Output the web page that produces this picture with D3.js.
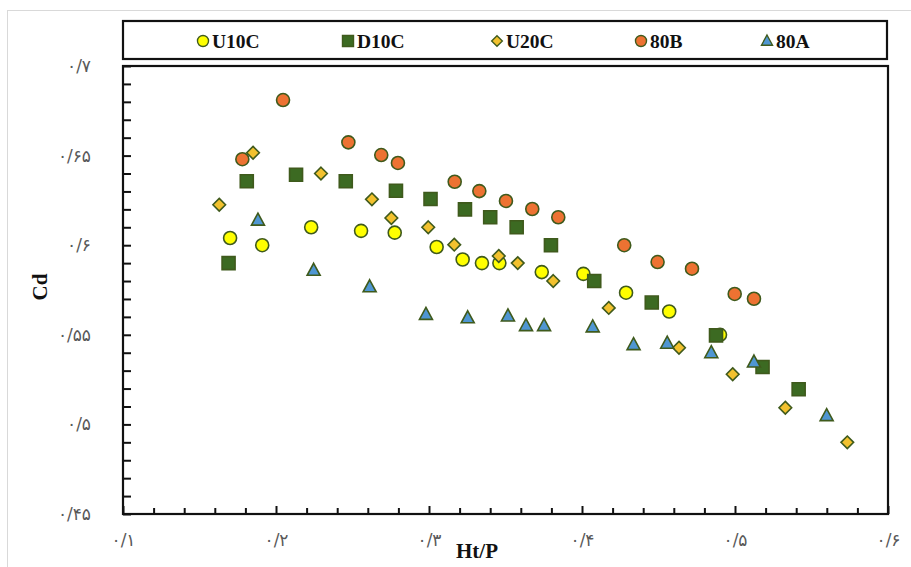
<!DOCTYPE html>
<html><head><meta charset="utf-8">
<script src="https://cdn.jsdelivr.net/npm/d3@7"></script>
<style>body{margin:0;background:#fff} svg{display:block}</style>
</head><body><svg id="c" width="911" height="567"></svg>
<script>
const seriesNames = ["U10C", "D10C", "U20C", "80B", "80A"];
const u10cX = [0.170, 0.191, 0.223, 0.2556, 0.2776, 0.305, 0.322, 0.3346, 0.346, 0.3737, 0.4009, 0.4288, 0.457, 0.4902];
const u10cY = [0.604, 0.600, 0.610, 0.608, 0.607, 0.599, 0.592, 0.590, 0.590, 0.585, 0.584, 0.5735, 0.563, 0.550];
const d10cX = [0.169, 0.1809, 0.2131, 0.2456, 0.2784, 0.301, 0.3235, 0.340, 0.3573, 0.3797, 0.408, 0.4456, 0.4876, 0.518, 0.5416];
const d10cY = [0.590, 0.6357, 0.6393, 0.6357, 0.6304, 0.6258, 0.620, 0.6156, 0.610, 0.600, 0.580, 0.568, 0.5497, 0.532, 0.5196];
const u20cX = [0.1629, 0.185, 0.2294, 0.2627, 0.2754, 0.2995, 0.3165, 0.3456, 0.358, 0.3812, 0.4175, 0.4634, 0.4985, 0.5329, 0.5734];
const u20cY = [0.6226, 0.6516, 0.640, 0.6256, 0.6152, 0.610, 0.6003, 0.594, 0.590, 0.580, 0.565, 0.5428, 0.528, 0.5093, 0.490];
const b80X = [0.178, 0.2046, 0.2473, 0.2688, 0.2797, 0.3168, 0.3329, 0.3503, 0.3675, 0.3845, 0.4276, 0.4494, 0.4719, 0.4998, 0.5124];
const b80Y = [0.648, 0.681, 0.6574, 0.6503, 0.6459, 0.6354, 0.6302, 0.6247, 0.6202, 0.6156, 0.600, 0.5906, 0.5869, 0.5728, 0.5701];
const a80X = [0.1882, 0.2246, 0.2612, 0.298, 0.3253, 0.3516, 0.3634, 0.3752, 0.407, 0.4337, 0.4557, 0.4845, 0.5124, 0.5599];
const a80Y = [0.614, 0.586, 0.5768, 0.5614, 0.5595, 0.5605, 0.5551, 0.5551, 0.5544, 0.5445, 0.5453, 0.540, 0.5348, 0.5049];
const xTickLabels = ["۰/۱", "۰/۲", "۰/۳", "۰/۴", "۰/۵", "۰/۶"];
const yTickLabels = ["۰/۴۵", "۰/۵", "۰/۵۵", "۰/۶", "۰/۶۵", "۰/۷"];

const series = [
  {name: seriesNames[0], xs: u10cX, ys: u10cY, shape: "circle", fill: "#ffff00"},
  {name: seriesNames[1], xs: d10cX, ys: d10cY, shape: "square", fill: "#3c6a22"},
  {name: seriesNames[2], xs: u20cX, ys: u20cY, shape: "diamond", fill: "#f2c12e"},
  {name: seriesNames[3], xs: b80X, ys: b80Y, shape: "circle", fill: "#ed7232"},
  {name: seriesNames[4], xs: a80X, ys: a80Y, shape: "triangle", fill: "#4f96d2"}
];
const strokeCol = "#3f5a1c";

function shapePath(shape) {
  if (shape === "circle") { const r = 6.5; return `M${-r},0A${r},${r} 0 1,0 ${r},0A${r},${r} 0 1,0 ${-r},0Z`; }
  if (shape === "square") { const h = 6.5; return `M${-h},${-h}H${h}V${h}H${-h}Z`; }
  if (shape === "diamond") { const h = 6.3; return `M0,${-h}L${h},0L0,${h}L${-h},0Z`; }
  if (shape === "triangle") { return `M0,-7L6.5,5L-6.5,5Z`; }
}

const svg = d3.select("#c");
const L = 123, R = 888, T = 66, B = 514;
const x = d3.scaleLinear().domain([0.1, 0.6]).range([L, R]);
const y = d3.scaleLinear().domain([0.45, 0.7]).range([B, T]);

// outer chart border
svg.append("rect").attr("x", 7.5).attr("y", 10.5).attr("width", 940).attr("height", 600)
  .attr("fill", "#fff").attr("stroke", "#d9d9d9").attr("stroke-width", 1);

// legend box
svg.append("rect").attr("x", 123).attr("y", 21).attr("width", 764).attr("height", 38)
  .attr("fill", "#fff").attr("stroke", "#111").attr("stroke-width", 2.2);
const legendMarkX = [203, 348, 497, 641, 767];
series.forEach((s, i) => {
  svg.append("path").attr("d", shapePath(s.shape))
    .attr("transform", `translate(${legendMarkX[i]},41) scale(0.85)`)
    .attr("fill", s.fill).attr("stroke", strokeCol).attr("stroke-width", 1.6);
  svg.append("text").attr("x", legendMarkX[i] + 9).attr("y", 47.5)
    .attr("font-family", "Liberation Serif, serif").attr("font-weight", "bold")
    .attr("font-size", 19.5).attr("fill", "#111").text(s.name);
});

// plot frame
svg.append("rect").attr("x", L).attr("y", T).attr("width", R - L).attr("height", B - T)
  .attr("fill", "#fff").attr("stroke", "#111").attr("stroke-width", 2.2);

// x axis ticks
const xMinor = d3.range(26).map(i => +(0.1 + i * 0.02).toFixed(2));
const xAxis = d3.axisBottom(x).tickValues(xMinor).tickSize(-6).tickPadding(20)
  .tickFormat((d, i) => i % 5 === 0 ? xTickLabels[i / 5] : "");
const gx = svg.append("g").attr("transform", `translate(0,${B})`).call(xAxis);
gx.select(".domain").remove();
gx.selectAll(".tick line").attr("stroke", "#111").attr("stroke-width", 2)
  .attr("y2", (d, i) => i % 5 === 0 ? -8 : -6);
gx.selectAll(".tick text").attr("font-family", "DejaVu Sans, sans-serif").attr("font-size", 17)
  .attr("fill", "#595959").attr("direction", "ltr");

// y axis ticks
const yMinor = d3.range(26).map(i => +(0.45 + i * 0.01).toFixed(2));
const yAxis = d3.axisLeft(y).tickValues(yMinor).tickSize(-8).tickPadding(32)
  .tickFormat((d, i) => i % 5 === 0 ? yTickLabels[i / 5] : "");
const gy = svg.append("g").attr("transform", `translate(${L},0)`).call(yAxis);
gy.select(".domain").remove();
gy.selectAll(".tick line").attr("stroke", "#111").attr("stroke-width", 2);
gy.selectAll(".tick text").attr("font-family", "DejaVu Sans, sans-serif").attr("font-size", 17)
  .attr("fill", "#595959").attr("direction", "ltr");

// axis titles
svg.append("text").attr("transform", "translate(47,287) rotate(-90)").attr("text-anchor", "middle")
  .attr("font-family", "Liberation Serif, serif").attr("font-weight", "bold").attr("font-size", 21)
  .attr("fill", "#111").text("Cd");
svg.append("text").attr("x", 477).attr("y", 558).attr("text-anchor", "middle")
  .attr("font-family", "Liberation Serif, serif").attr("font-weight", "bold").attr("font-size", 21)
  .attr("fill", "#111").text("Ht/P");

// points
series.forEach(s => {
  svg.append("g").selectAll("path").data(s.xs.map((v, i) => [v, s.ys[i]])).join("path")
    .attr("d", shapePath(s.shape))
    .attr("transform", d => `translate(${x(d[0])},${y(d[1])})`)
    .attr("fill", s.fill).attr("stroke", strokeCol).attr("stroke-width", 1.6);
});
</script></body></html>
